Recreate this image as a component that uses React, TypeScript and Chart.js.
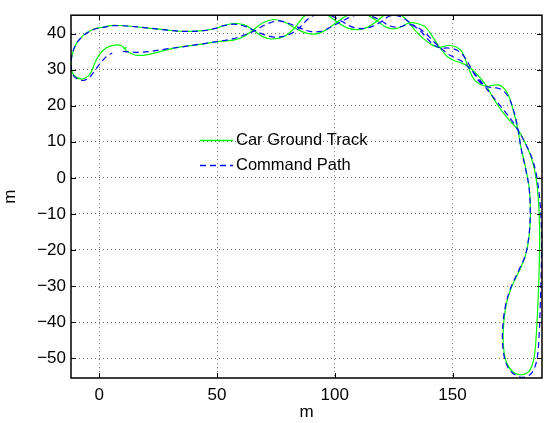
import React, { useEffect, useRef } from "react";
import { Chart, registerables } from "chart.js";

Chart.register(...registerables);

// ---- axis setup ----
const xTicks = [0, 50, 100, 150];
const yTicks = [-50, -40, -30, -20, -10, 0, 10, 20, 30, 40];
const xMin = -12;
const xMax = 188;
const yMin = -55.5;
const yMax = 45.1;

const seriesNames = ["Car Ground Track", "Command Path"];

// ---- Car Ground Track (green), traced in segments ----
const carInnerTrack: [number, number][] = [
  [11.5, 36.3], [11, 35.6], [12.5, 34.8], [15.5, 34.0], [20, 34.1], [25.8, 35], [32.8, 36.1],
  [42.7, 37], [49.8, 37.7], [56.9, 38.2], [60.8, 39], [65.4, 41],
];
const carTopEast: [number, number][] = [
  [69.5, 43], [74, 43.9], [78.5, 43.2], [83, 41.6], [87.5, 40.2], [92, 39.9], [96.5, 41.1],
  [101, 43.2], [105.5, 45.1], [110, 45.9], [114, 45.1], [118, 43.5], [121.5, 41.9], [125, 41.3],
  [128.5, 41.9], [131.5, 43],
];
const carDiagonalDown: [number, number][] = [
  [135, 42.8], [138.5, 41.8], [141.5, 39.2], [144.5, 36.2], [147.5, 33.8], [150.5, 32.6],
  [153.5, 31.9], [156.5, 31], [159, 29.6], [161.5, 27.9], [164.5, 25.4], [166.8, 22.7], [168.8, 20.6],
  [171, 18.5], [174, 16.1], [177.8, 13.3],
];
const carRightOuter: [number, number][] = [
  [180.8, 9.8], [183.6, 5.3], [185.5, 0], [186.6, -7.3], [187, -16.3], [186.8, -25.3],
  [186.3, -34.3], [185.6, -43.3], [184.6, -50], [182.6, -53.5], [179.4, -54.6],
];
const carRightInner: [number, number][] = [
  [176, -54], [173.5, -52], [172, -49], [171.5, -43.3], [172.5, -36.1], [174.8, -30.7],
  [178.7, -25.3], [181, -21.5], [182.5, -16.3], [183.1, -10], [182.6, -2.8], [180.8, 3.5],
  [178.9, 8.9], [177.8, 13.3],
];
const carDiagonalUp: [number, number][] = [
  [175.6, 19.2], [173.4, 23.4], [170.4, 25.6], [167.3, 25.7], [164.5, 25.4], [161.5, 26],
  [159, 27.4], [156.5, 31], [154, 35], [151.5, 36.3], [148, 36.7], [144.5, 36.2], [141.5, 36.8],
  [138, 38.4], [134.5, 40.6], [131.5, 43],
];
const carTopWest: [number, number][] = [
  [128.5, 45], [125, 45.9], [121.5, 45.3], [118, 43.5], [114, 41.8], [110, 41.1], [105.5, 41.5],
  [101, 43.2], [96.5, 45.3], [92, 46.1], [87.5, 45.1], [83, 41.6], [78.5, 39.2], [73, 38.5],
  [69, 39.3], [65.4, 41], [61.5, 42.4], [57, 42.8],
];
const carOuterTrack: [number, number][] = [
  [52, 42], [49.8, 41.5], [44.2, 40.8], [37, 40.6], [30, 40.9], [20.1, 41.6], [11.6, 42.1],
  [5.9, 42.3], [1.7, 41.8], [-2.5, 41.2], [-6.8, 39.5], [-10.1, 36.8], [-11.8, 33.2],
  [-11.8, 30.3], [-10.6, 28.3], [-7.5, 27.4], [-4.7, 28.2], [-3.2, 29.6], [-1.8, 32.0],
  [0.5, 34.6], [3.1, 36.1], [6.5, 36.8], [9.2, 36.7], [10.8, 35.8],
];

// ---- Command Path (blue dashed), traced in segments ----
const cmdInnerTrack: [number, number][] = [
  [10, 35.1], [13, 34.9], [17, 34.8], [22, 35.1], [28, 35.7], [35, 36.3], [42, 37], [50, 37.8],
  [57, 38.6], [61.5, 39.6], [66, 40.8],
];
const cmdTopEast: [number, number][] = [
  [71, 42.6], [76, 43.5], [80.5, 42.8], [85, 41.6], [89.5, 40.6], [94, 40.6], [98.5, 41.9],
  [103, 43.4], [107.5, 44.8], [112, 45.4], [116, 44.7], [120, 43.4], [123.5, 42.1], [127, 41.8],
  [130.5, 42.4], [133, 42.4],
];
const cmdDiagonalDown: [number, number][] = [
  [136, 41.4], [139, 39.8], [142, 37.8], [145, 36], [148, 34.4], [151, 33.3], [154, 32.3],
  [157, 30.5], [160, 28.4], [163, 26], [166, 23.4], [169, 21], [172, 18.6], [175, 16.1], [178, 13],
];
const cmdRightOuter: [number, number][] = [
  [181, 9.5], [184, 5], [186, -0.5], [187.3, -8], [187.8, -16.3], [187.7, -25.3], [187.3, -34.3],
  [186.8, -43.3], [185.8, -50.5], [183.5, -54.2], [180, -55.3],
];
const cmdRightInner: [number, number][] = [
  [176.5, -54.6], [173.5, -52.5], [171.8, -49], [171.2, -43.3], [172.3, -36.1], [174.6, -30.7],
  [178.4, -25.3], [180.9, -21.5], [182.4, -16.3], [183, -10], [182.5, -2.8], [180.7, 3.5],
  [179, 8.5], [178, 13],
];
const cmdDiagonalUp: [number, number][] = [
  [176, 18.5], [173.8, 22.4], [171, 24.4], [168, 25], [165, 25.2], [162, 26.3], [159.5, 28.5],
  [157, 31.5], [154.5, 34], [151.5, 35.5], [148, 36], [145, 36], [142, 36.9], [139, 38.8],
  [136, 41], [133, 42.4],
];
const cmdTopWest: [number, number][] = [
  [130, 44], [126.5, 45], [123, 44.8], [120, 43.4], [116, 42], [112, 41.4], [107.5, 41.8],
  [103, 43.4], [98.5, 44.9], [94, 45.4], [89.5, 44.5], [85, 41.6], [80.5, 39.7], [75, 39],
  [70.5, 39.6], [66, 40.8], [62, 42], [57, 42.6],
];
const cmdOuterTrack: [number, number][] = [
  [52, 42.1], [49.8, 41.5], [44, 40.8], [37, 40.6], [30, 40.9], [20, 41.6], [11.6, 42.1],
  [5.9, 42.2], [1.7, 41.7], [-2.5, 41.1], [-6.8, 39.4], [-10.1, 36.8], [-11.8, 33.2], [-11.8, 30],
  [-10.5, 28], [-7.3, 27], [-4.5, 27.6], [-2.5, 29.2], [0, 31.4], [3, 33.6], [5.5, 34.6],
];

const carGroundTrack = [
  ...carInnerTrack, ...carTopEast, ...carDiagonalDown, ...carRightOuter,
  ...carRightInner, ...carDiagonalUp, ...carTopWest, ...carOuterTrack,
];
const commandPath = [
  ...cmdInnerTrack, ...cmdTopEast, ...cmdDiagonalDown, ...cmdRightOuter,
  ...cmdRightInner, ...cmdDiagonalUp, ...cmdTopWest, ...cmdOuterTrack,
];

const FONT = '"Liberation Sans", Arial, Helvetica, sans-serif';
const GREEN = "#00ff00";
const BLUE = "#0000ff";

const framePlugin = {
  id: "matlabFrame",
  afterDraw(chart: any) {
    const { ctx, chartArea: a, scales } = chart;
    ctx.save();
    ctx.strokeStyle = "#000";
    ctx.lineWidth = 1.5;
    ctx.setLineDash([]);
    ctx.strokeRect(a.left, a.top, a.right - a.left, a.bottom - a.top);
    const tl = 5;
    ctx.lineWidth = 1;
    ctx.beginPath();
    for (const v of xTicks) {
      const px = Math.round(scales.x.getPixelForValue(v)) + 0.5;
      ctx.moveTo(px, a.bottom);
      ctx.lineTo(px, a.bottom - tl);
      ctx.moveTo(px, a.top);
      ctx.lineTo(px, a.top + tl);
    }
    for (const v of yTicks) {
      const py = Math.round(scales.y.getPixelForValue(v)) + 0.5;
      ctx.moveTo(a.left, py);
      ctx.lineTo(a.left + tl, py);
      ctx.moveTo(a.right, py);
      ctx.lineTo(a.right - tl, py);
    }
    ctx.stroke();

    // legend (inside axes, no box)
    const lx0 = 200;
    const lx1 = 233;
    const rows = [
      { y: 140, color: GREEN, dash: [] as number[], text: seriesNames[0] },
      { y: 165, color: BLUE, dash: [6, 4], text: seriesNames[1] },
    ];
    ctx.font = `16.5px ${FONT}`;
    ctx.textBaseline = "middle";
    ctx.textAlign = "left";
    for (const r of rows) {
      ctx.strokeStyle = r.color;
      ctx.lineWidth = 1.3;
      ctx.setLineDash(r.dash);
      ctx.beginPath();
      ctx.moveTo(lx0, r.y + 0.5);
      ctx.lineTo(lx1, r.y + 0.5);
      ctx.stroke();
      ctx.setLineDash([]);
      ctx.fillStyle = "#000";
      ctx.fillText(r.text, lx1 + 3, r.y);
    }
    ctx.restore();
  },
};

export default function App() {
  const ref = useRef<HTMLCanvasElement | null>(null);

  useEffect(() => {
    if (!ref.current) return;
    const chart = new Chart(ref.current, {
      type: "line",
      data: {
        datasets: [
          {
            label: seriesNames[0],
            data: carGroundTrack.map(([x, y]) => ({ x, y })),
            borderColor: GREEN,
            borderWidth: 1.2,
            pointRadius: 0,
            tension: 0.35,
            fill: false,
            order: 1,
          },
          {
            label: seriesNames[1],
            data: commandPath.map(([x, y]) => ({ x, y })),
            borderColor: BLUE,
            borderWidth: 1.2,
            borderDash: [6, 4],
            pointRadius: 0,
            tension: 0.35,
            fill: false,
            order: 0,
          },
        ],
      },
      options: {
        animation: false,
        responsive: false,
        devicePixelRatio: 1,
        layout: { padding: { left: 0, right: 2, top: 6, bottom: 0 } },
        plugins: { legend: { display: false }, tooltip: { enabled: false } },
        scales: {
          x: {
            type: "linear",
            min: xMin,
            max: xMax,
            afterBuildTicks: (s: any) => {
              s.ticks = xTicks.map((v) => ({ value: v }));
            },
            afterFit: (s: any) => {
              s.height = 45;
            },
            grid: { color: "rgba(0,0,0,0.55)", drawTicks: false, lineWidth: 1 },
            border: { display: false, dash: [1, 3] },
            ticks: {
              color: "#000",
              font: { size: 17, family: FONT },
              padding: 7,
              maxRotation: 0,
              autoSkip: false,
            },
            title: {
              display: true,
              text: "m",
              color: "#000",
              font: { size: 17, family: FONT },
              padding: { top: 0, bottom: 0 },
            },
          },
          y: {
            type: "linear",
            min: yMin,
            max: yMax,
            afterBuildTicks: (s: any) => {
              s.ticks = yTicks.map((v) => ({ value: v }));
            },
            afterFit: (s: any) => {
              s.width = 71;
            },
            grid: { color: "rgba(0,0,0,0.55)", drawTicks: false, lineWidth: 1 },
            border: { display: false, dash: [1, 3] },
            ticks: {
              color: "#000",
              font: { size: 17, family: FONT },
              padding: 5,
              autoSkip: false,
              callback: (v: any) => String(v).replace("-", "\u2212"),
            },
            title: {
              display: true,
              text: "m",
              color: "#000",
              font: { size: 17, family: FONT },
              padding: { top: 0, bottom: 0 },
            },
          },
        },
      },
      plugins: [framePlugin],
    });
    return () => chart.destroy();
  }, []);

  return (
    <div style={{ position: "absolute", left: 0, top: 0, width: 544, height: 423, background: "#fff" }}>
      <canvas ref={ref} width={544} height={423} />
    </div>
  );
}
